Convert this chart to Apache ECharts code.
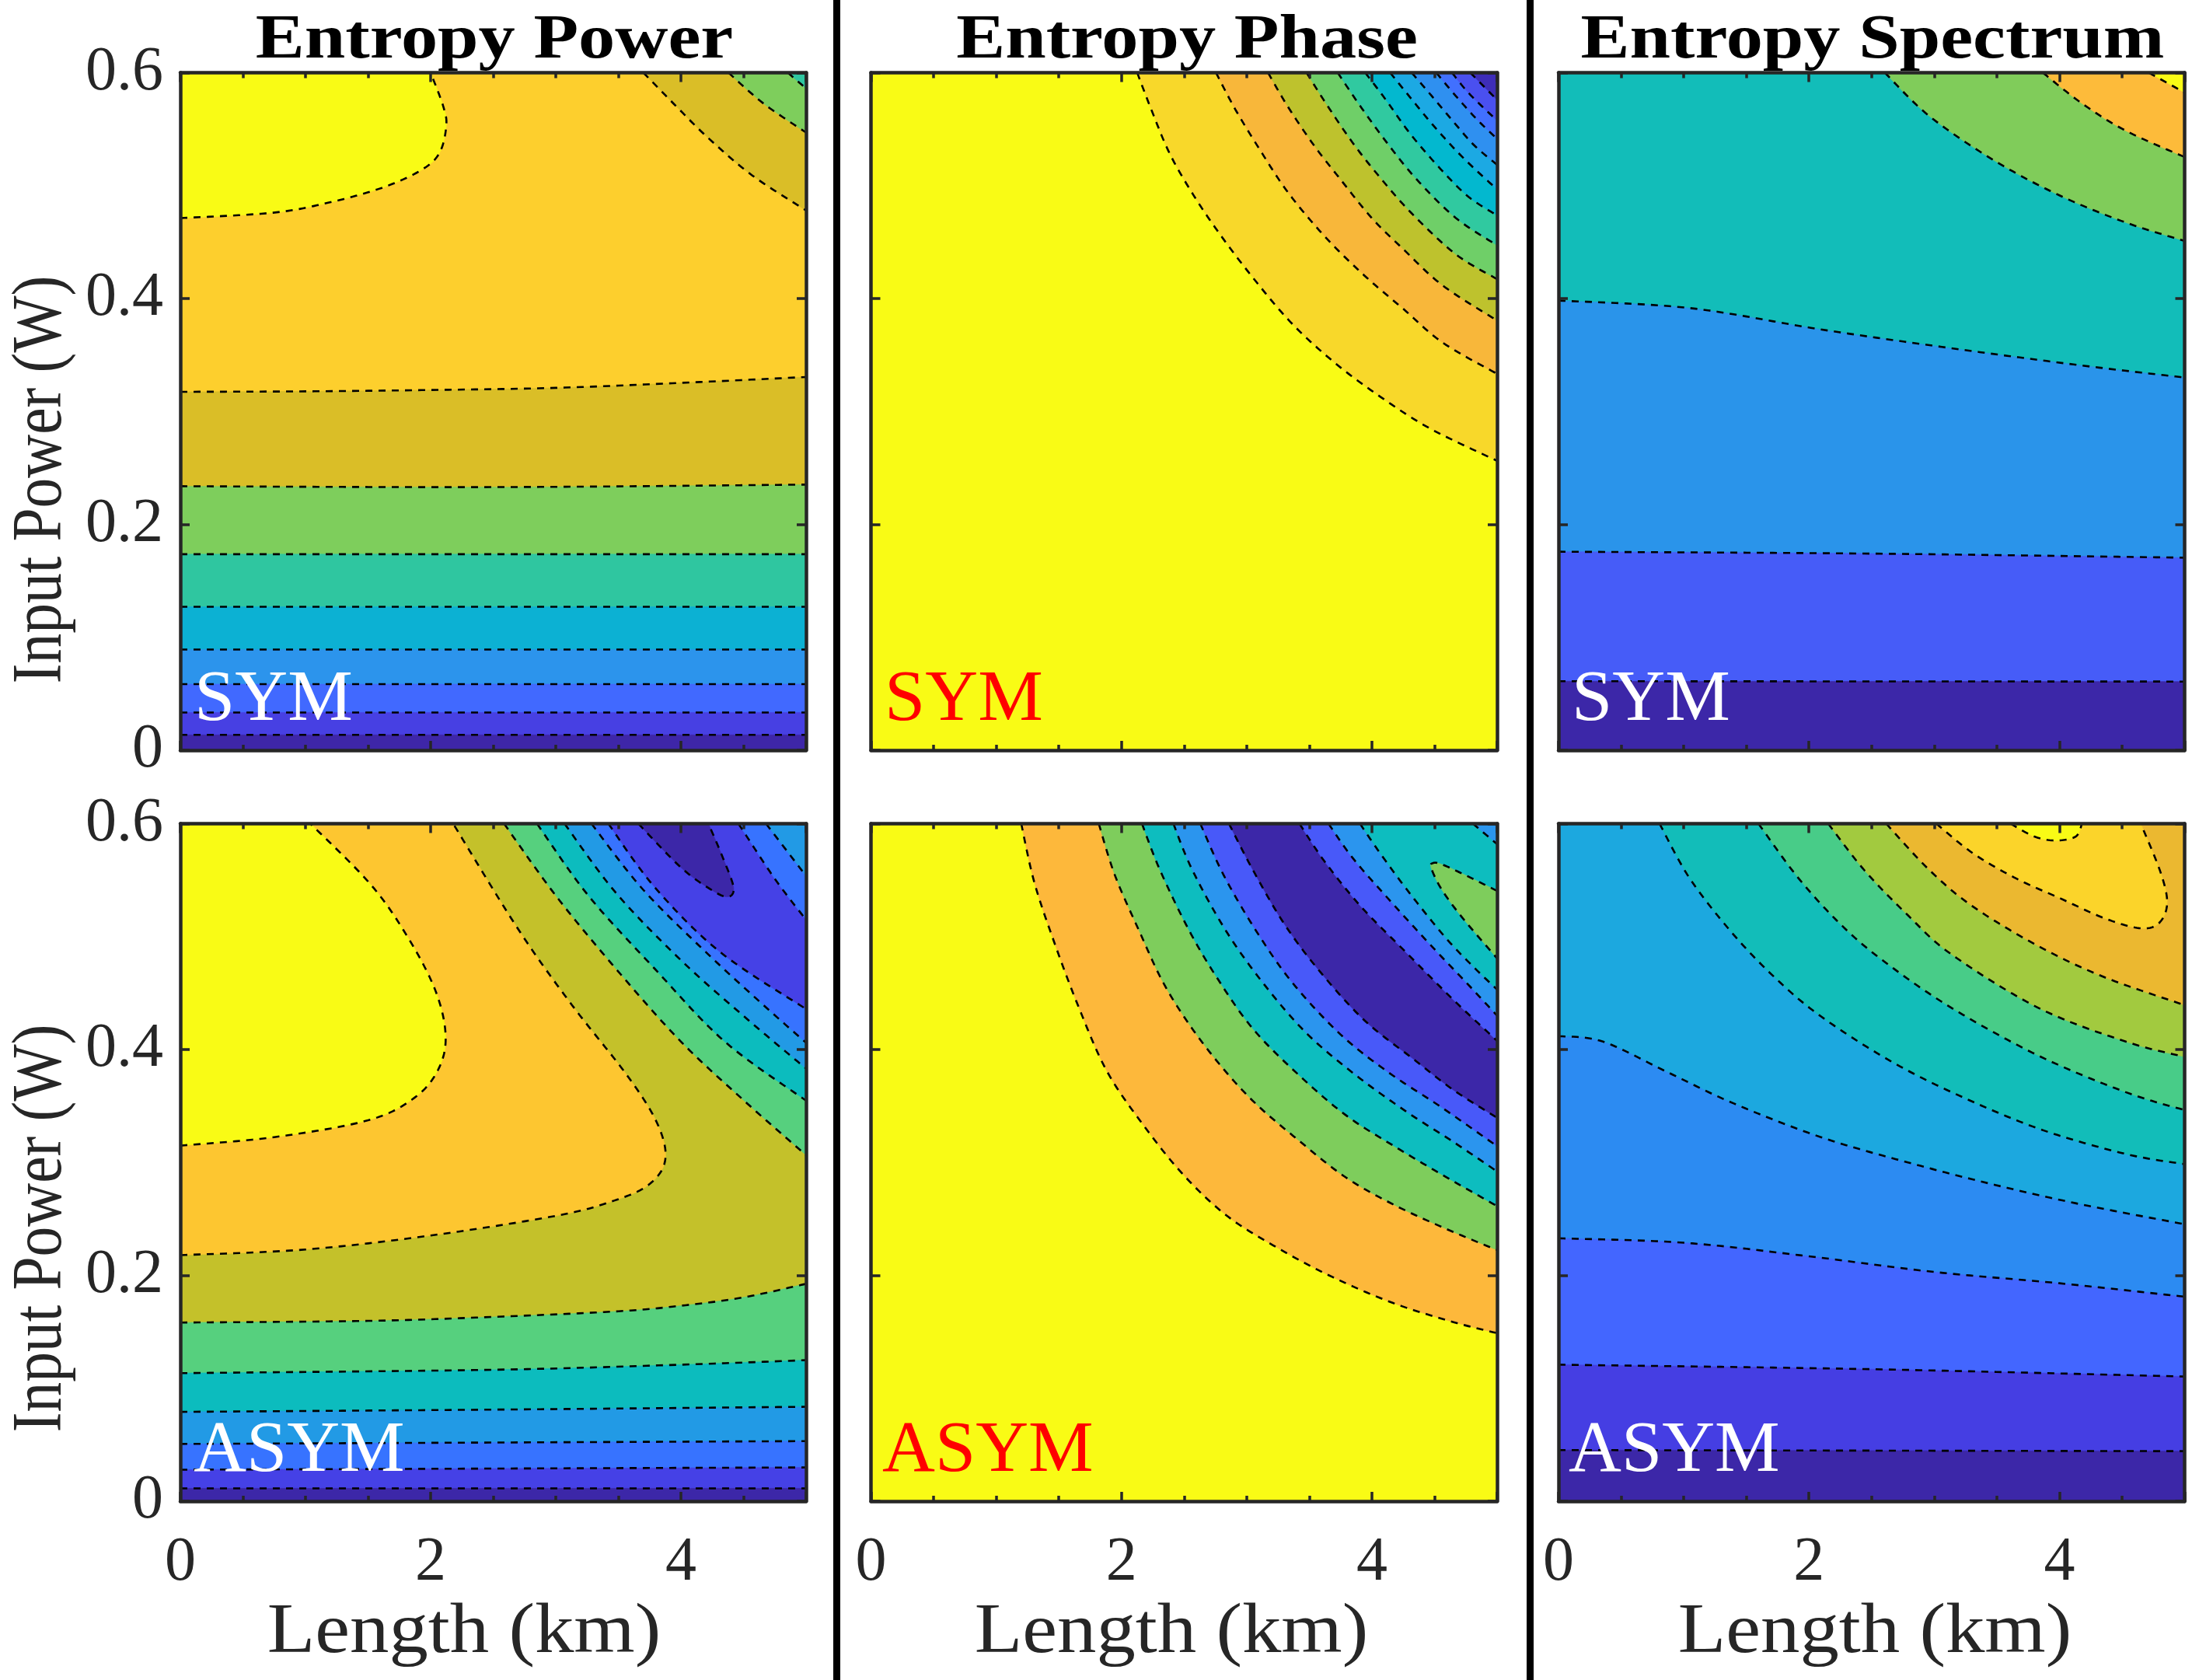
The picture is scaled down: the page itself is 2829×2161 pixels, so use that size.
<!DOCTYPE html>
<html><head><meta charset="utf-8">
<style>html,body{margin:0;padding:0;background:#fff}#c{width:2829px;height:2161px}</style>
<script src="https://cdn.jsdelivr.net/npm/echarts@6/dist/echarts.min.js"></script></head>
<body><div id="c"></div>
<script>
// ---------- axis values ----------
const xTicksMajor = [0, 2, 4];
const yTickLabels = [0, 0.2, 0.4, 0.6];
const columnTitles = ['Entropy Power', 'Entropy Phase', 'Entropy Spectrum'];
const rowTags = ['SYM', 'ASYM'];

// ---------- contour lines, [length km, input power W] ----------
// Entropy Power, SYM
const psBot1 = [[0,.0136],[5,.0136]];
const psBot2 = [[0,.0334],[5,.0334]];
const psBot3 = [[0,.0585],[5,.0585]];
const psBot4 = [[0,.0892],[5,.0892]];
const psBot5 = [[0,.127],[5,.127]];
const psBot6 = [[0,.1736],[5,.1736]];
const psBot7 = [[0,.2338],[2.5,.233],[5,.2352]];
const psBot8 = [[0,.3174],[1,.3178],[2,.319],[3,.3209],[4,.3253],[5,.3305]];
const psBlob = [[0,.4712],[.74,.476],[1.18,.4848],[1.61,.498],[1.92,.5134],[2.07,.5288],[2.125,.553],[2.1,.5705],[2,.6]];
const psTop1 = [[3.7,.6],[3.96,.5705],[4.22,.542],[4.57,.509],[5,.478]];
const psTop2 = [[4.38,.6],[4.66,.5727],[5,.547]];
const psTop3 = [[4.855,.6],[5,.586]];
// Entropy Phase, SYM
const fs1 = [[2.126,.6],[2.237,.5678],[2.384,.5287],[2.573,.492],[2.783,.4575],[3.034,.4207],[3.349,.3793],[3.685,.3448],[4.042,.315],[4.461,.2851],[5,.2563]];
const fs2 = [[2.755,.6],[2.908,.5678],[3.097,.5333],[3.328,.4943],[3.622,.4552],[3.937,.4207],[4.251,.3908],[4.566,.3609],[5,.3333]];
const fs3 = [[3.171,.6],[3.328,.5701],[3.538,.5356],[3.748,.5057],[3.999,.4713],[4.251,.4437],[4.566,.4115],[5,.3805]];
const fs4 = [[3.479,.6],[3.622,.5747],[3.832,.5402],[4.042,.5103],[4.314,.4759],[4.671,.4391],[5,.4172]];
const fs5 = [[3.727,.6],[3.895,.5724],[4.105,.5402],[4.356,.5057],[4.671,.4713],[5,.4471]];
const fs6 = [[3.947,.6],[4.105,.577],[4.314,.5448],[4.566,.5126],[4.776,.4897],[5,.4736]];
const fs7 = [[4.146,.6],[4.314,.577],[4.503,.5517],[4.734,.5241],[5,.4966]];
const fs8 = [[4.318,.6],[4.461,.5816],[4.671,.554],[4.818,.5356],[5,.5184]];
const fs9 = [[4.514,.6],[4.671,.5793],[4.839,.5586],[5,.5414]];
const fs10 = [[4.64,.6],[4.776,.5816],[5,.5575]];
const fs11 = [[4.786,.6],[5,.5759]];
// Entropy Spectrum, SYM
const ss1 = [[0,.0611],[5,.0608]];
const ss2 = [[0,.1758],[2.5,.1741],[5,.1705]];
const ss3 = [[0,.3982],[1.045,.3916],[2.09,.3727],[3.136,.356],[4.18,.3407],[5,.33]];
const ss4 = [[2.606,.6],[2.96,.5617],[3.48,.5222],[4,.4914],[4.53,.4673],[5,.451]];
const ss5 = [[3.868,.6],[4.18,.5728],[4.53,.5486],[5,.5253]];
const ss6 = [[4.714,.6],[5,.5824]];
// Entropy Power, ASYM
const pa1 = [[0,.0114],[5,.0114]];
const pa2 = [[0,.0279],[5,.0299]];
const pa3 = [[0,.0507],[5,.0532]];
const pa4 = [[0,.0791],[2.5,.0811],[5,.0836]];
const pa5 = [[0,.1134],[2.5,.1164],[4,.1209],[5,.1249]];
const pa6 = [[0,.1582],[1.5,.1597],[2.5,.1632],[3.5,.1682],[4,.1731],[4.5,.1805],[5,.1925]];
const pa7 = [[0,.2179],[1,.2229],[2,.2353],[3,.2527],[3.44,.2652],[3.74,.28],[3.875,.3025],[3.81,.3348],[3.57,.3771],[3.13,.4393],[2.7,.5065],[2.18,.6]];
const paBlob = [[0,.3149],[.75,.3224],[1.5,.3373],[1.87,.3572],[2.06,.3821],[2.12,.4119],[2.04,.4517],[1.82,.499],[1.52,.5463],[1.04,.6]];
const pa9 = [[2.587,.6],[3,.5363],[3.48,.4716],[4,.407],[4.53,.3522],[5,.3065]];
const pa10 = [[2.85,.6],[3.26,.5363],[3.79,.4716],[4.35,.407],[5,.3547]];
const pa11 = [[3.07,.6],[3.48,.5388],[4,.4791],[4.53,.4269],[5,.3831]];
const pa12 = [[3.285,.6],[3.7,.5413],[4.22,.4841],[4.66,.4393],[5,.406]];
const pa13 = [[3.42,.6],[3.79,.5438],[4.31,.4866],[5,.4358]];
const paDark = [[3.66,.6],[4,.5612],[4.245,.5413],[4.375,.5353],[4.42,.5438],[4.33,.5712],[4.22,.6]];
const pa15 = [[4.46,.6],[4.75,.5512],[5,.5149]];
const pa16 = [[4.68,.6],[5,.5537]];
// Entropy Phase, ASYM
const fa1 = [[1.2,.6],[1.304,.5482],[1.465,.4945],[1.658,.4377],[1.883,.381],[2.173,.3334],[2.495,.289],[2.85,.2521],[3.268,.223],[3.686,.1985],[4.169,.1755],[4.652,.1586],[5,.1488]];
const fa2 = [[1.819,.6],[1.948,.5543],[2.141,.5052],[2.334,.4592],[2.56,.4193],[2.817,.3825],[3.075,.3518],[3.397,.3212],[3.783,.2874],[4.169,.2629],[4.588,.2414],[5,.2224]];
const fa3 = [[2.164,.6],[2.302,.5604],[2.527,.5083],[2.753,.4653],[3.043,.4193],[3.397,.3794],[3.783,.3426],[4.169,.315],[4.588,.2874],[5,.2613]];
const fa4 = [[2.415,.6],[2.56,.5604],[2.817,.5083],[3.107,.4623],[3.461,.4163],[3.847,.3794],[4.266,.3457],[4.652,.3181],[5,.292]];
const fa5 = [[2.63,.6],[2.817,.5543],[3.075,.5052],[3.365,.4592],[3.751,.4132],[4.137,.3794],[4.556,.3488],[5,.3144]];
const fa6 = [[2.859,.6],[3.043,.5604],[3.3,.5113],[3.59,.4684],[3.944,.4255],[4.33,.3917],[4.652,.3641],[5,.3396]];
const fa7 = [[3.422,.6],[3.622,.5666],[3.912,.5267],[4.266,.4868],[4.652,.4439],[5,.4077]];
const fa8 = [[3.654,.6],[3.847,.5696],[4.137,.5328],[4.491,.4899],[4.781,.4561],[5,.43]];
const fa9 = [[3.905,.6],[4.073,.5727],[4.298,.539],[4.588,.4991],[4.813,.473],[5,.4531]];
const fa10 = [[4.807,.6],[5,.5819]];
const faIsle = [[5,.5405],[4.749,.5543],[4.556,.5641],[4.485,.565],[4.475,.5604],[4.556,.542],[4.717,.5175],[5,.4807]];
// Entropy Spectrum, ASYM
const sa1 = [[0,.0453],[5,.0443]];
const sa2 = [[0,.1209],[2.5,.1169],[5,.1104]];
const sa3 = [[0,.2328],[1,.2289],[2,.2169],[3,.203],[4,.193],[5,.1811]];
const sa4 = [[0,.4119],[.355,.407],[.877,.3796],[1.4,.3522],[2.095,.3224],[2.79,.3],[3.486,.2801],[4.18,.2627],[5,.2453]];
const sa5 = [[.807,.6],[1.05,.5512],[1.4,.5015],[1.747,.4617],[2.095,.4294],[2.617,.392],[3.14,.3622],[3.834,.3299],[4.53,.3075],[5,.2985]];
const sa6 = [[1.597,.6],[1.92,.5512],[2.27,.509],[2.617,.4766],[3.14,.4368],[3.834,.3945],[4.53,.3622],[5,.3463]];
const sa7 = [[2.154,.6],[2.443,.5587],[2.79,.5189],[3.14,.4841],[3.834,.4368],[4.53,.407],[5,.3935]];
const sa8 = [[2.617,.6],[2.964,.5587],[3.312,.5264],[3.834,.4915],[4.356,.4642],[5,.4393]];
const sa9 = [[3.017,.6],[3.312,.5736],[3.66,.5512],[4.008,.5338],[4.356,.5164],[4.635,.5075],[4.79,.5114],[4.86,.5289],[4.81,.5562],[4.65,.6]];
const sa10 = [[3.61,.6],[3.8,.5886],[3.97,.5851],[4.13,.5886],[4.18,.6]];

// ---------- panel recipes: [contour, fill, closing corners], painted in order ----------
const BELOW = [[5,0],[0,0]], CORNER_TR = [[5,.6]], CORNER_TL = [[0,.6]], SELF = [];
const panels = [
 { base:'#FDCF2D', bands:[
  [psBot8,'#DABE27',BELOW],[psBot7,'#7ECE5C',BELOW],[psBot6,'#2FC6A0',BELOW],[psBot5,'#0CB1D3',BELOW],
  [psBot4,'#2C94EC',BELOW],[psBot3,'#4169FF',BELOW],[psBot2,'#4740E3',BELOW],[psBot1,'#3E26A8',BELOW],
  [psBlob,'#F9FB15',CORNER_TL],[psTop1,'#DABE27',CORNER_TR],[psTop2,'#7ECE5C',CORNER_TR],[psTop3,'#2FC6A0',CORNER_TR]]},
 { base:'#F9FB15', bands:[
  [fs1,'#F8D82A',CORNER_TR],[fs2,'#F8B73A',CORNER_TR],[fs3,'#BEC22D',CORNER_TR],[fs4,'#6FCF68',CORNER_TR],
  [fs5,'#30C9A0',CORNER_TR],[fs6,'#03B8CF',CORNER_TR],[fs7,'#1CA9E3',CORNER_TR],[fs8,'#2F90F0',CORNER_TR],
  [fs9,'#4170FF',CORNER_TR],[fs10,'#4A50F0',CORNER_TR],[fs11,'#3E2DB8',CORNER_TR]]},
 { base:'#12BDB9', bands:[
  [ss3,'#2A94EA',BELOW],[ss2,'#465CF8',BELOW],[ss1,'#3C27A8',BELOW],
  [ss4,'#80CC5A',CORNER_TR],[ss5,'#FDBB3A',CORNER_TR],[ss6,'#F9FB15',CORNER_TR]]},
 { base:'#C4C12A', bands:[
  [pa6,'#56D07E',BELOW],[pa5,'#0CBCBE',BELOW],[pa4,'#229AE5',BELOW],[pa3,'#3773FF',BELOW],[pa2,'#4541E6',BELOW],[pa1,'#3C27A8',BELOW],
  [pa7,'#FDC630',CORNER_TL],[paBlob,'#F9FB15',CORNER_TL],
  [pa9,'#56D07E',CORNER_TR],[pa10,'#0CBCBE',CORNER_TR],[pa11,'#229AE5',CORNER_TR],[pa12,'#3773FF',CORNER_TR],[pa13,'#4541E6',CORNER_TR],
  [paDark,'#3C27A8',SELF],[pa15,'#3773FF',CORNER_TR],[pa16,'#229AE5',CORNER_TR]]},
 { base:'#F9FB15', bands:[
  [fa1,'#FDB83B',CORNER_TR],[fa2,'#7ECD5C',CORNER_TR],[fa3,'#0DBDBF',CORNER_TR],[fa4,'#2B95EE',CORNER_TR],[fa5,'#4859F9',CORNER_TR],
  [fa6,'#3C27A8',CORNER_TR],[fa7,'#4859F9',CORNER_TR],[fa8,'#2B95EE',CORNER_TR],[fa9,'#0DBDBF',CORNER_TR],[fa10,'#2B95EE',CORNER_TR],[faIsle,'#7ECD5C',SELF]]},
 { base:'#1CA8DF', bands:[
  [sa4,'#2C8BF2',BELOW],[sa3,'#4366FF',BELOW],[sa2,'#453EE3',BELOW],[sa1,'#3C27A8',BELOW],
  [sa5,'#12BDB9',CORNER_TR],[sa6,'#48CC88',CORNER_TR],[sa7,'#A2CA3F',CORNER_TR],[sa8,'#EBB830',CORNER_TR],[sa9,'#FBD42A',SELF],[sa10,'#F9FB15',SELF]]}
];

// ---------- layout ----------
const colX = [[232,1037],[1120.5,1926],[2005,2810.5]];
const rowY = [[93.5,965],[1059.5,1931]];
const INK = '#262626', SERIF = '"Liberation Serif"';
const W = 2829, H = 2161;

function smoothPath(p, n) {
  if (p.length < 3) return p.slice();
  const out = [];
  for (let i = 0; i < p.length - 1; i++) {
    const a = p[Math.max(i-1,0)], b = p[i], c = p[i+1], d = p[Math.min(i+2,p.length-1)];
    for (let k = 0; k < n; k++) {
      const t = k/n, t2 = t*t, t3 = t2*t;
      out.push([0,1].map(j => .5*(2*b[j] + (c[j]-a[j])*t + (2*a[j]-5*b[j]+4*c[j]-d[j])*t2 + (3*b[j]-a[j]-3*c[j]+d[j])*t3)));
    }
  }
  out.push(p[p.length-1]);
  return out;
}

const grid = [], xAxis = [], yAxis = [], series = [];
const axisCommon = {
  z: 10, axisLine: {show:true, onZero:false, lineStyle:{color:INK, width:4.5}},
  splitLine: {show:false}
};
panels.forEach((pn, idx) => {
  const col = idx % 3, row = Math.floor(idx / 3);
  const [l, r] = colX[col], [t, b] = rowY[row];
  grid.push({left:l, top:t, width:r-l, height:b-t, containLabel:false});
  const xBase = {...axisCommon, gridIndex:idx, type:'value', min:0, max:5, interval:xTicksMajor[1]-xTicksMajor[0],
    axisTick:{show:true, inside:true, length:12, lineStyle:{color:INK, width:3.5}},
    minorTick:{show:true, splitNumber:4, length:7, lineStyle:{color:INK, width:3.5}}};
  const yBase = {...axisCommon, gridIndex:idx, type:'value', min:yTickLabels[0], max:yTickLabels[3], interval:yTickLabels[1],
    axisTick:{show:true, inside:true, length:12, lineStyle:{color:INK, width:3.5}}};
  const xi = xAxis.length, yi = yAxis.length;
  xAxis.push({...xBase, position:'bottom',
    axisLabel:{show:row===1, margin:40, fontFamily:SERIF, fontSize:80, color:INK, showMaxLabel:false, hideOverlap:false,
      formatter:v => xTicksMajor.includes(v) ? String(v) : ''}});
  xAxis.push({...xBase, position:'top', axisLabel:{show:false}});
  yAxis.push({...yBase, position:'left',
    axisLabel:{show:col===0, margin:22, fontFamily:SERIF, fontSize:80, color:INK, padding:[8,0,0,0],
      formatter:v => { const m = yTickLabels.find(q => Math.abs(q-v)<1e-6); return m===0 ? '0' : m.toFixed(1); }}});
  yAxis.push({...yBase, position:'right', axisLabel:{show:false}});

  const addBand = (line, fill, closure, stroke, name) => {
    series.push({
      type:'custom', name, coordinateSystem:'cartesian2d', xAxisIndex:xi, yAxisIndex:yi,
      data: line, encode:{x:0,y:1}, clip:true, silent:true, animation:false, z:2,
      renderItem:(params, api) => {
        if (params.dataIndex !== 0) return null;
        const pts = smoothPath(line.map(q => api.coord(q)), 14);
        const closed = pts.concat(closure.map(q => api.coord(q)));
        const kids = [{type:'polygon', shape:{points:closed}, style:{fill, stroke:fill, lineWidth:.6}}];
        if (stroke) kids.push({type:'polyline', shape:{points:pts},
          style:{fill:null, stroke:'#000', lineWidth:2.6, lineDash:[9,8]}});
        return {type:'group', children:kids};
      }
    });
  };
  addBand([[0,0],[5,0],[5,.6],[0,.6]], pn.base, [], false, 'base'+idx);
  pn.bands.forEach((bd,i) => addBand(bd[0], bd[1], bd[2], true, 'c'+idx+'_'+i));
});

// ---------- texts and dividers ----------
const txt = (text, x, y, size, opt={}) => ({
  type:'text', x, y, z:20, rotation:opt.rot||0, scaleX:opt.sx||1, scaleY:1,
  style:{text, font:(opt.bold?'bold ':'')+size+'px '+SERIF, fill:opt.fill||INK, align:opt.align||'center', verticalAlign:'bottom'}
});
const graphic = [
  {type:'rect', z:20, shape:{x:1072,y:0,width:9,height:H}, style:{fill:'#000'}},
  {type:'rect', z:20, shape:{x:1964,y:0,width:9,height:H}, style:{fill:'#000'}},
  txt(columnTitles[0], 636, 93, 80, {bold:true, fill:'#000', sx:1.18}),
  txt(columnTitles[1], 1527, 93, 80, {bold:true, fill:'#000', sx:1.18}),
  txt(columnTitles[2], 2409, 93, 80, {bold:true, fill:'#000', sx:1.18}),
  txt('Length (km)', 597, 2146, 90, {sx:1.12}),
  txt('Length (km)', 1507, 2146, 90, {sx:1.12}),
  txt('Length (km)', 2412, 2146, 90, {sx:1.12}),
  txt('Input Power (W)', 99, 617, 90, {rot:Math.PI/2, sx:.86}),
  txt('Input Power (W)', 99, 1580, 90, {rot:Math.PI/2, sx:.86}),
  txt(rowTags[0], 250, 948, 94, {align:'left', fill:'#fff'}),
  txt(rowTags[0], 1138, 948, 94, {align:'left', fill:'#f00'}),
  txt(rowTags[0], 2022, 948, 94, {align:'left', fill:'#fff'}),
  txt(rowTags[1], 249, 1914, 94, {align:'left', fill:'#fff'}),
  txt(rowTags[1], 1135, 1914, 94, {align:'left', fill:'#f00'}),
  txt(rowTags[1], 2018, 1914, 94, {align:'left', fill:'#fff'})
];

const chart = echarts.init(document.getElementById('c'), null, {renderer:'canvas', width:W, height:H});
chart.setOption({animation:false, backgroundColor:'#fff', grid, xAxis, yAxis, series, graphic, tooltip:{show:false}, legend:{show:false}});
</script></body></html>
